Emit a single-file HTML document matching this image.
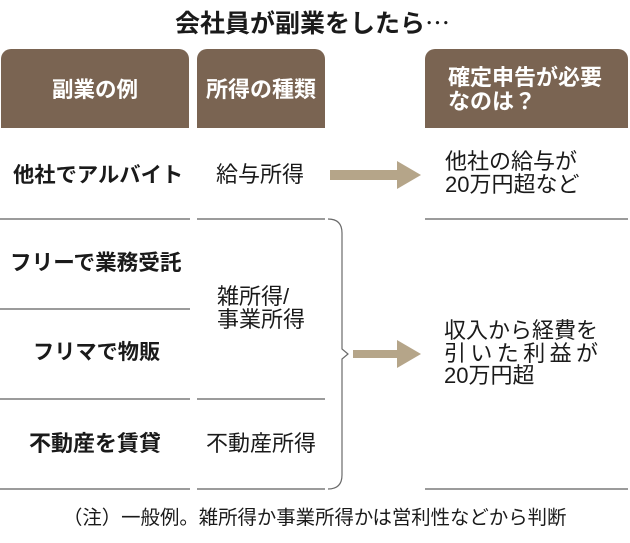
<!DOCTYPE html>
<html><head><meta charset="utf-8">
<style>
html,body{margin:0;padding:0;background:#fff;}
body{width:630px;height:543px;position:relative;overflow:hidden;font-family:"Liberation Sans","Noto Sans CJK JP",sans-serif;color:#1a1a1a;}
.t{position:absolute;white-space:nowrap;}
.b{font-weight:bold;}
.hd{position:absolute;background:#7a6452;border-radius:10px 10px 0 0;}
.w{color:#fff;font-weight:bold;}
svg{position:absolute;left:0;top:0;}
</style></head><body>
<div class="hd" style="left:1px;top:49px;width:188px;height:79px;"></div>
<div class="hd" style="left:197px;top:49px;width:128px;height:79px;"></div>
<div class="hd" style="left:425px;top:49px;width:203px;height:79px;"></div>

<svg width="630" height="543" viewBox="0 0 630 543">
<g stroke="#7a7a7a" stroke-width="1.5" fill="none">
<line x1="0" y1="219" x2="190" y2="219"/>
<line x1="197" y1="219" x2="325" y2="219"/>
<line x1="425" y1="219" x2="628" y2="219"/>
<line x1="0" y1="309" x2="190" y2="309"/>
<line x1="0" y1="399" x2="190" y2="399"/>
<line x1="197" y1="399" x2="325" y2="399"/>
<line x1="0" y1="489" x2="190" y2="489"/>
<line x1="197" y1="489" x2="325" y2="489"/>
<line x1="425" y1="489" x2="628" y2="489"/>
</g>
<path d="M328 219 Q342 219 342 233 L342 349 L348 354 L342 359 L342 475 Q342 489 328 489" stroke="#6a6a6a" stroke-width="1.2" fill="none"/>
<g fill="#b5a589">
<rect x="330" y="170" width="68" height="10"/>
<polygon points="397,161 421,175 397,189"/>
<rect x="353" y="350" width="45" height="8"/>
<polygon points="397,340 421,354 397,368"/>
</g>
</svg>

<div class="t b" style="left:175px;top:4px;font-size:25px;line-height:36px;">会社員が副業をしたら<span style="font-family:'Noto Sans CJK JP',sans-serif;font-weight:normal;">…</span></div>

<div class="t w" style="left:52px;top:74px;font-size:21.5px;line-height:32px;">副業の例</div>
<div class="t w" style="left:206px;top:74px;font-size:22px;line-height:32px;">所得の種類</div>
<div class="t w" style="left:448px;top:66px;font-size:22px;line-height:24px;">確定申告が必要<br>なのは？</div>

<div class="t b" style="left:13px;top:159px;font-size:21.3px;line-height:32px;">他社でアルバイト</div>
<div class="t b" style="left:10px;top:247px;font-size:21.6px;line-height:32px;">フリーで業務受託</div>
<div class="t b" style="left:33px;top:337px;font-size:21.2px;line-height:32px;">フリマで物販</div>
<div class="t b" style="left:29px;top:428px;font-size:22px;line-height:32px;">不動産を賃貸</div>

<div class="t" style="left:216px;top:159px;font-size:22px;line-height:32px;">給与所得</div>
<div class="t" style="left:217px;top:285px;font-size:22px;line-height:23px;">雑所得/<br>事業所得</div>
<div class="t" style="left:206px;top:428px;font-size:22px;line-height:32px;">不動産所得</div>

<div class="t" style="left:445px;top:150px;font-size:22px;line-height:23px;">他社の給与が<br>20万円超など</div>
<div class="t" style="left:444px;top:320px;font-size:22px;line-height:22.5px;">収入から経費を<br><span style="letter-spacing:4.4px;">引いた利益が</span><br>20万円超</div>

<div class="t" style="left:63px;top:505px;font-size:19.4px;line-height:26px;">（注）一般例。雑所得か事業所得かは営利性などから判断</div>
</body></html>
